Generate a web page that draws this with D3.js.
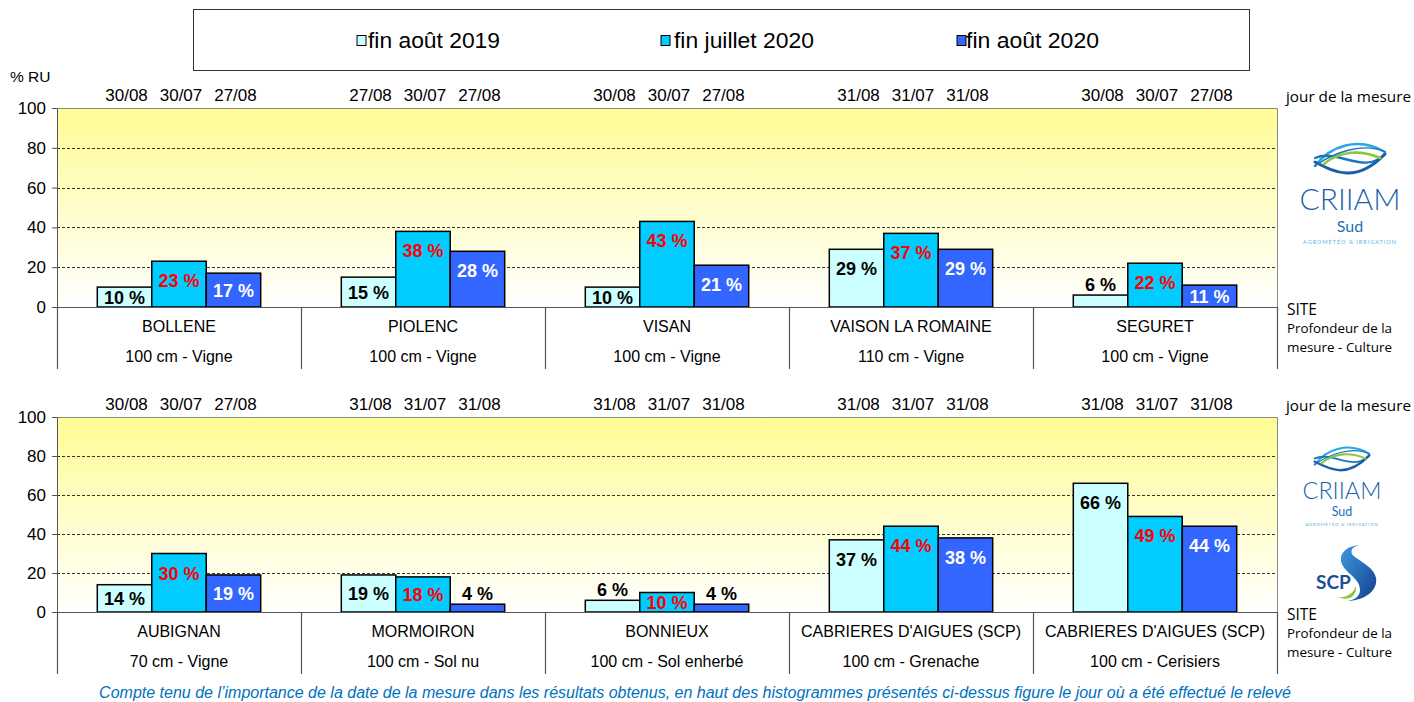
<!DOCTYPE html>
<html>
<head>
<meta charset="utf-8">
<script src="https://cdn.jsdelivr.net/npm/d3@7"></script>
<style>
  body { margin: 0; background: #fff; }
  svg text { font-family: "Liberation Sans", Arial, sans-serif; }
</style>
</head>
<body>
<div id="chart"></div>
<script>
// series
var seriesNames = ["fin août 2019", "fin juillet 2020", "fin août 2020"];
var yTicks = [0, 20, 40, 60, 80, 100];

// top panel
var topSites = ["BOLLENE", "PIOLENC", "VISAN", "VAISON LA ROMAINE", "SEGURET"];
var topDepths = ["100 cm - Vigne", "100 cm - Vigne", "100 cm - Vigne", "110 cm - Vigne", "100 cm - Vigne"];
var topAug2019 = [10, 15, 10, 29, 6];
var topJul2020 = [23, 38, 43, 37, 22];
var topAug2020 = [17, 28, 21, 29, 11];
var topDates = [
  ["30/08", "30/07", "27/08"],
  ["27/08", "30/07", "27/08"],
  ["30/08", "30/07", "27/08"],
  ["31/08", "31/07", "31/08"],
  ["30/08", "30/07", "27/08"]
];

// bottom panel
var botSites = ["AUBIGNAN", "MORMOIRON", "BONNIEUX", "CABRIERES D'AIGUES (SCP)", "CABRIERES D'AIGUES (SCP)"];
var botDepths = ["70 cm - Vigne", "100 cm - Sol nu", "100 cm - Sol enherbé", "100 cm - Grenache", "100 cm - Cerisiers"];
var botAug2019 = [14, 19, 6, 37, 66];
var botJul2020 = [30, 18, 10, 44, 49];
var botAug2020 = [19, 4, 4, 38, 44];
var botDates = [
  ["30/08", "30/07", "27/08"],
  ["31/08", "31/07", "31/08"],
  ["31/08", "31/07", "31/08"],
  ["31/08", "31/07", "31/08"],
  ["31/08", "31/07", "31/08"]
];

var colors = ["#CCFFFF", "#00CCFF", "#3366FF"];
var labelColors = ["#000", "#FF0000", "#fff"];

var W = 1414, H = 702;
var svg = d3.select("#chart").append("svg").attr("width", W).attr("height", H);

var defs = svg.append("defs");
var grad = defs.append("linearGradient").attr("id", "bg").attr("x1", 0).attr("y1", 0).attr("x2", 0).attr("y2", 1);
grad.append("stop").attr("offset", "0%").attr("stop-color", "#FFFC94");
grad.append("stop").attr("offset", "100%").attr("stop-color", "#FFFFFF");

// Legend
svg.append("rect").attr("x", 193.5).attr("y", 9.5).attr("width", 1056).attr("height", 61)
  .attr("fill", "#fff").attr("stroke", "#333").attr("stroke-width", 1);
var legendX = [357, 661, 957];
var legendTextX = [368, 674, 966];
var leg = svg.selectAll(".leg").data(seriesNames).enter().append("g").attr("class", "leg");
leg.append("rect")
  .attr("x", (d, i) => legendX[i]).attr("y", 35.5)
  .attr("width", 9).attr("height", 10)
  .attr("fill", (d, i) => colors[i]).attr("stroke", "#000").attr("stroke-width", 1);
leg.append("text")
  .attr("x", (d, i) => legendTextX[i]).attr("y", 48)
  .style("font-size", "22.5px").attr("fill", "#000")
  .attr("textLength", (d, i) => [132, 140, 133][i]).attr("lengthAdjust", "spacingAndGlyphs")
  .text(d => d);

svg.append("text").attr("x", 10).attr("y", 82).style("font-size", "15.5px").text("% RU");

function drawPanel(top, zero, sites, depths, s1, s2, s3, dates) {
  var x = d3.scaleBand().domain(d3.range(sites.length)).range([57, 1277]).padding(0);
  var xs = d3.scaleBand().domain([0, 1, 2]).range([0, x.bandwidth()]).paddingInner(0).paddingOuter(0.74);
  var y = d3.scaleLinear().domain([0, 100]).range([zero, top]);
  var values = sites.map((d, i) => [s1[i], s2[i], s3[i]]);

  var g = svg.append("g");

  // plot background
  g.append("rect").attr("x", 57).attr("y", top).attr("width", 1220).attr("height", zero - top)
    .attr("fill", "url(#bg)");

  // dashed gridlines
  g.selectAll(".grid").data(yTicks.filter(t => t > 0 && t < 100)).enter().append("line")
    .attr("x1", 57).attr("x2", 1277)
    .attr("y1", d => Math.round(y(d)) + 0.5).attr("y2", d => Math.round(y(d)) + 0.5)
    .attr("stroke", "#000").attr("stroke-width", 0.8).attr("stroke-dasharray", "3,2");

  // plot border top/right
  g.append("path")
    .attr("d", "M57," + (top + 0.5) + "H1277.5V" + zero)
    .attr("fill", "none").attr("stroke", "#8a8a8a").attr("stroke-width", 1);

  // bars
  var groups = g.selectAll(".site").data(values).enter().append("g")
    .attr("transform", (d, i) => "translate(" + x(i) + ",0)");

  groups.selectAll("rect").data(d => d).enter().append("rect")
    .attr("x", (d, j) => xs(j))
    .attr("y", d => y(d))
    .attr("width", xs.bandwidth())
    .attr("height", d => zero - y(d))
    .attr("fill", (d, j) => colors[j])
    .attr("stroke", "#000").attr("stroke-width", 1.5);

  // value labels
  groups.selectAll(".val").data(d => d).enter().append("text")
    .attr("x", (d, j) => xs(j) + xs.bandwidth() / 2)
    .attr("y", function (d) {
      var h = zero - y(d);
      if (d < 8) return y(d) - 4;
      return y(d) + Math.min(19, h * 0.5) + 7;
    })
    .attr("text-anchor", "middle")
    .style("font-size", "18px").style("font-weight", "bold")
    .attr("fill", (d, j) => d < 8 ? "#000" : labelColors[j])
    .text(d => d + " %");

  // dates above plot
  groups.selectAll(".date").data((d, i) => dates[i]).enter().append("text")
    .attr("x", (d, j) => xs(j) + xs.bandwidth() / 2 + 2)
    .attr("y", top - 7)
    .attr("text-anchor", "middle")
    .style("font-size", "17px")
    .text(d => d);

  // y axis
  var axis = g.append("g").attr("transform", "translate(57,0)")
    .call(d3.axisLeft(y).tickValues(yTicks).tickSize(5).tickPadding(6));
  axis.select(".domain").attr("stroke", "#555");
  axis.selectAll(".tick line").attr("stroke", "#555");
  axis.selectAll(".tick text").style("font-size", "17px").attr("fill", "#000")
    .style("font-family", "'Liberation Sans', Arial, sans-serif");

  // category table
  g.append("line").attr("x1", 57).attr("x2", 1277.5).attr("y1", zero + 0.5).attr("y2", zero + 0.5)
    .attr("stroke", "#555").attr("stroke-width", 1.2);
  var bounds = d3.range(sites.length).map(i => x(i)).concat([1277]);
  g.selectAll(".sep").data(bounds).enter().append("line")
    .attr("x1", d => Math.round(d) + 0.5).attr("x2", d => Math.round(d) + 0.5)
    .attr("y1", zero).attr("y2", zero + 62)
    .attr("stroke", "#555").attr("stroke-width", 1.2);

  g.selectAll(".name").data(sites).enter().append("text")
    .attr("x", (d, i) => x(i) + x.bandwidth() / 2)
    .attr("y", zero + 25)
    .attr("text-anchor", "middle").style("font-size", "16px")
    .text(d => d);
  g.selectAll(".depth").data(depths).enter().append("text")
    .attr("x", (d, i) => x(i) + x.bandwidth() / 2)
    .attr("y", zero + 55)
    .attr("text-anchor", "middle").style("font-size", "16px")
    .text(d => d);

  // right side notes
  var side = "'Open Sans', 'Noto Sans', sans-serif";
  g.append("text").attr("x", 1286).attr("y", top - 6).style("font-size", "15px")
    .style("font-family", side)
    .attr("textLength", 125).attr("lengthAdjust", "spacingAndGlyphs")
    .text("jour de la mesure");
  g.append("text").attr("x", 1287).attr("y", zero + 8).style("font-size", "15.5px")
    .style("font-family", side).text("SITE");
  g.append("text").attr("x", 1287).attr("y", zero + 26).style("font-size", "13.2px")
    .style("font-family", side)
    .attr("textLength", 105).attr("lengthAdjust", "spacingAndGlyphs")
    .text("Profondeur de la");
  g.append("text").attr("x", 1287).attr("y", zero + 45).style("font-size", "13.2px")
    .style("font-family", side)
    .attr("textLength", 105).attr("lengthAdjust", "spacingAndGlyphs")
    .text("mesure - Culture");
}

drawPanel(108, 307, topSites, topDepths, topAug2019, topJul2020, topAug2020, topDates);
drawPanel(417, 612, botSites, botDepths, botAug2019, botJul2020, botAug2020, botDates);

// CRIIAM logo
function criiam(cx, top, s) {
  var g = svg.append("g").attr("transform", "translate(" + cx + "," + top + ") scale(" + s + ")");
  var waves = [
    ["M-35,24 C-20,4 8,-6 35,10", "#29A8E0", 2.6],
    ["M-35,16 C-12,6 14,34 35,12", "#1B75BC", 2.4],
    ["M-35,20 C-16,30 6,42 35,12", "#1B5FA8", 3],
    ["M-26,22 C-10,8 12,8 30,16", "#8DC63F", 2.6],
    ["M-35,24 C-16,10 14,0 35,10", "#1B75BC", 1.4]
  ];
  g.selectAll("path").data(waves).enter().append("path")
    .attr("d", d => d[0]).attr("fill", "none")
    .attr("stroke", d => d[1]).attr("stroke-width", d => d[2]).attr("stroke-linecap", "round");
  g.append("text").attr("x", 0).attr("y", 68).attr("text-anchor", "middle")
    .style("font-family", "Lato, 'Open Sans', sans-serif").style("font-weight", 300)
    .style("font-size", "30px").attr("fill", "#1D5FA8").text("CRIIAM");
  g.append("text").attr("x", 0).attr("y", 90).attr("text-anchor", "middle")
    .style("font-family", "Lato, 'Open Sans', sans-serif")
    .style("font-size", "16px").attr("fill", "#1D6FB8").text("Sud");
  g.append("text").attr("x", 0).attr("y", 102).attr("text-anchor", "middle")
    .style("font-family", "Lato, 'Open Sans', sans-serif")
    .style("font-size", "5.5px").style("letter-spacing", "1px").attr("fill", "#5BB4E5")
    .text("AGROMÉTÉO & IRRIGATION");
}
criiam(1350, 142, 1);
criiam(1342, 446, 0.78);

// SCP logo
var scpGrad = defs.append("linearGradient").attr("id", "scpg").attr("x1", 0).attr("y1", 0).attr("x2", 1).attr("y2", 1);
scpGrad.append("stop").attr("offset", "0%").attr("stop-color", "#3A9BE0");
scpGrad.append("stop").attr("offset", "100%").attr("stop-color", "#173E8C");
var scp = svg.append("g").attr("transform", "translate(1316,544)");
scp.append("path")
  .attr("d", "M44,1 C30,2 22,10 26,20 C30,30 44,34 44,46 C44,54 36,56 32,57 C50,56 62,46 60,34 C58,22 40,16 36,10 C34,5 38,2 44,1 Z")
  .attr("fill", "url(#scpg)");
scp.append("path")
  .attr("d", "M22,53 C30,54 37,50 40,42 C41,52 33,58 22,53 Z")
  .attr("fill", "#8DC63F");
scp.append("text").attr("x", 0).attr("y", 45)
  .style("font-family", "Lato, 'Open Sans', sans-serif").style("font-weight", "bold")
  .style("font-size", "19px").attr("fill", "#1B4F9C").text("SCP");

// caption
svg.append("text").attr("x", 695).attr("y", 698).attr("text-anchor", "middle")
  .style("font-size", "16px").style("font-style", "italic").attr("fill", "#0070C0")
  .text("Compte tenu de l’importance de la date de la mesure dans les résultats obtenus, en haut des histogrammes présentés ci-dessus figure le jour où a été effectué le relevé");
</script>
</body>
</html>
